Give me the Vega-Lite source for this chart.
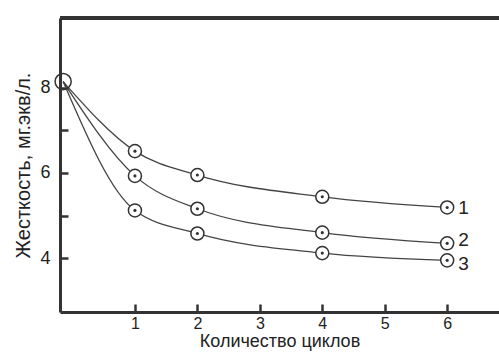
{
  "$schema": "https://vega.github.io/schema/vega-lite/v6.json",
  "width": 439,
  "height": 294,
  "autosize": {"type": "none"},
  "padding": {"left": 60, "top": 18, "right": 0, "bottom": 46},
  "background": "white",
  "config": {
    "view": {"stroke": null},
    "axis": {
      "grid": false,
      "labelFont": "Liberation Sans",
      "titleFont": "Liberation Sans",
      "labelFontSize": 18,
      "titleFontSize": 19,
      "titleFontWeight": "normal",
      "labelColor": "#222",
      "titleColor": "#222",
      "domainColor": "#333",
      "domainWidth": 3,
      "tickColor": "#333",
      "tickWidth": 2.5
    }
  },
  "data": {
    "values": [
      {"cycles": -0.15, "hardness": 8.14, "series": "1"},
      {"cycles": 1, "hardness": 6.51, "series": "1"},
      {"cycles": 2, "hardness": 5.95, "series": "1"},
      {"cycles": 4, "hardness": 5.44, "series": "1"},
      {"cycles": 6, "hardness": 5.19, "series": "1"},
      {"cycles": -0.15, "hardness": 8.14, "series": "2"},
      {"cycles": 1, "hardness": 5.93, "series": "2"},
      {"cycles": 2, "hardness": 5.16, "series": "2"},
      {"cycles": 4, "hardness": 4.6, "series": "2"},
      {"cycles": 6, "hardness": 4.35, "series": "2"},
      {"cycles": -0.15, "hardness": 8.14, "series": "3"},
      {"cycles": 1, "hardness": 5.12, "series": "3"},
      {"cycles": 2, "hardness": 4.58, "series": "3"},
      {"cycles": 4, "hardness": 4.12, "series": "3"},
      {"cycles": 6, "hardness": 3.95, "series": "3"}
    ]
  },
  "layer": [
    {
      "mark": {"type": "line", "interpolate": "monotone", "color": "#444", "strokeWidth": 1.3},
      "encoding": {
        "x": {
          "field": "cycles", "type": "quantitative",
          "scale": {"domain": [-0.2, 6.83], "nice": false, "zero": false},
          "axis": {"values": [1, 2, 3, 4, 5, 6], "format": "d", "tickSize": -8, "labelPadding": 11, "labelFontSize": 16, "title": "Количество циклов", "titlePadding": 1, "titleFontSize": 18}
        },
        "y": {
          "field": "hardness", "type": "quantitative",
          "scale": {"domain": [2.74, 9.63], "nice": false, "zero": false},
          "axis": {"values": [4, 5, 6, 7, 8], "labelExpr": "datum.value % 2 == 0 ? datum.label : ''", "tickSize": -8, "labelPadding": 18, "title": "Жесткость, мг.экв/л.", "titlePadding": 6, "titleFontSize": 20}
        },
        "detail": {"field": "series"}
      }
    },
    {
      "mark": {"type": "rule", "color": "#333", "strokeWidth": 3},
      "encoding": {"y": {"datum": 9.63}}
    },
    {
      "transform": [{"filter": "datum.cycles > 0"}],
      "mark": {"type": "point", "shape": "circle", "filled": true, "fill": "white", "stroke": "#333", "strokeWidth": 1.5, "size": 170, "opacity": 1},
      "encoding": {
        "x": {"field": "cycles", "type": "quantitative"},
        "y": {"field": "hardness", "type": "quantitative"}
      }
    },
    {
      "transform": [{"filter": "datum.cycles > 0"}],
      "mark": {"type": "point", "shape": "circle", "filled": true, "color": "#333", "size": 10, "opacity": 1},
      "encoding": {
        "x": {"field": "cycles", "type": "quantitative"},
        "y": {"field": "hardness", "type": "quantitative"}
      }
    },
    {
      "transform": [{"filter": "datum.cycles < 0 && datum.series == '1'"}],
      "mark": {"type": "point", "shape": "circle", "filled": false, "stroke": "#333", "strokeWidth": 1.5, "size": 260, "opacity": 1},
      "encoding": {
        "x": {"field": "cycles", "type": "quantitative"},
        "y": {"field": "hardness", "type": "quantitative"}
      }
    },
    {
      "transform": [{"filter": "datum.cycles == 6 && datum.series == '1'"}],
      "mark": {"type": "text", "align": "left", "baseline": "middle", "dx": 11, "dy": 1, "font": "Liberation Sans", "fontSize": 19, "color": "#222"},
      "encoding": {
        "x": {"field": "cycles", "type": "quantitative"},
        "y": {"field": "hardness", "type": "quantitative"},
        "text": {"field": "series"}
      }
    },
    {
      "transform": [{"filter": "datum.cycles == 6 && datum.series == '2'"}],
      "mark": {"type": "text", "align": "left", "baseline": "middle", "dx": 11, "dy": -3, "font": "Liberation Sans", "fontSize": 19, "color": "#222"},
      "encoding": {
        "x": {"field": "cycles", "type": "quantitative"},
        "y": {"field": "hardness", "type": "quantitative"},
        "text": {"field": "series"}
      }
    },
    {
      "transform": [{"filter": "datum.cycles == 6 && datum.series == '3'"}],
      "mark": {"type": "text", "align": "left", "baseline": "middle", "dx": 11, "dy": 4, "font": "Liberation Sans", "fontSize": 19, "color": "#222"},
      "encoding": {
        "x": {"field": "cycles", "type": "quantitative"},
        "y": {"field": "hardness", "type": "quantitative"},
        "text": {"field": "series"}
      }
    }
  ]
}
